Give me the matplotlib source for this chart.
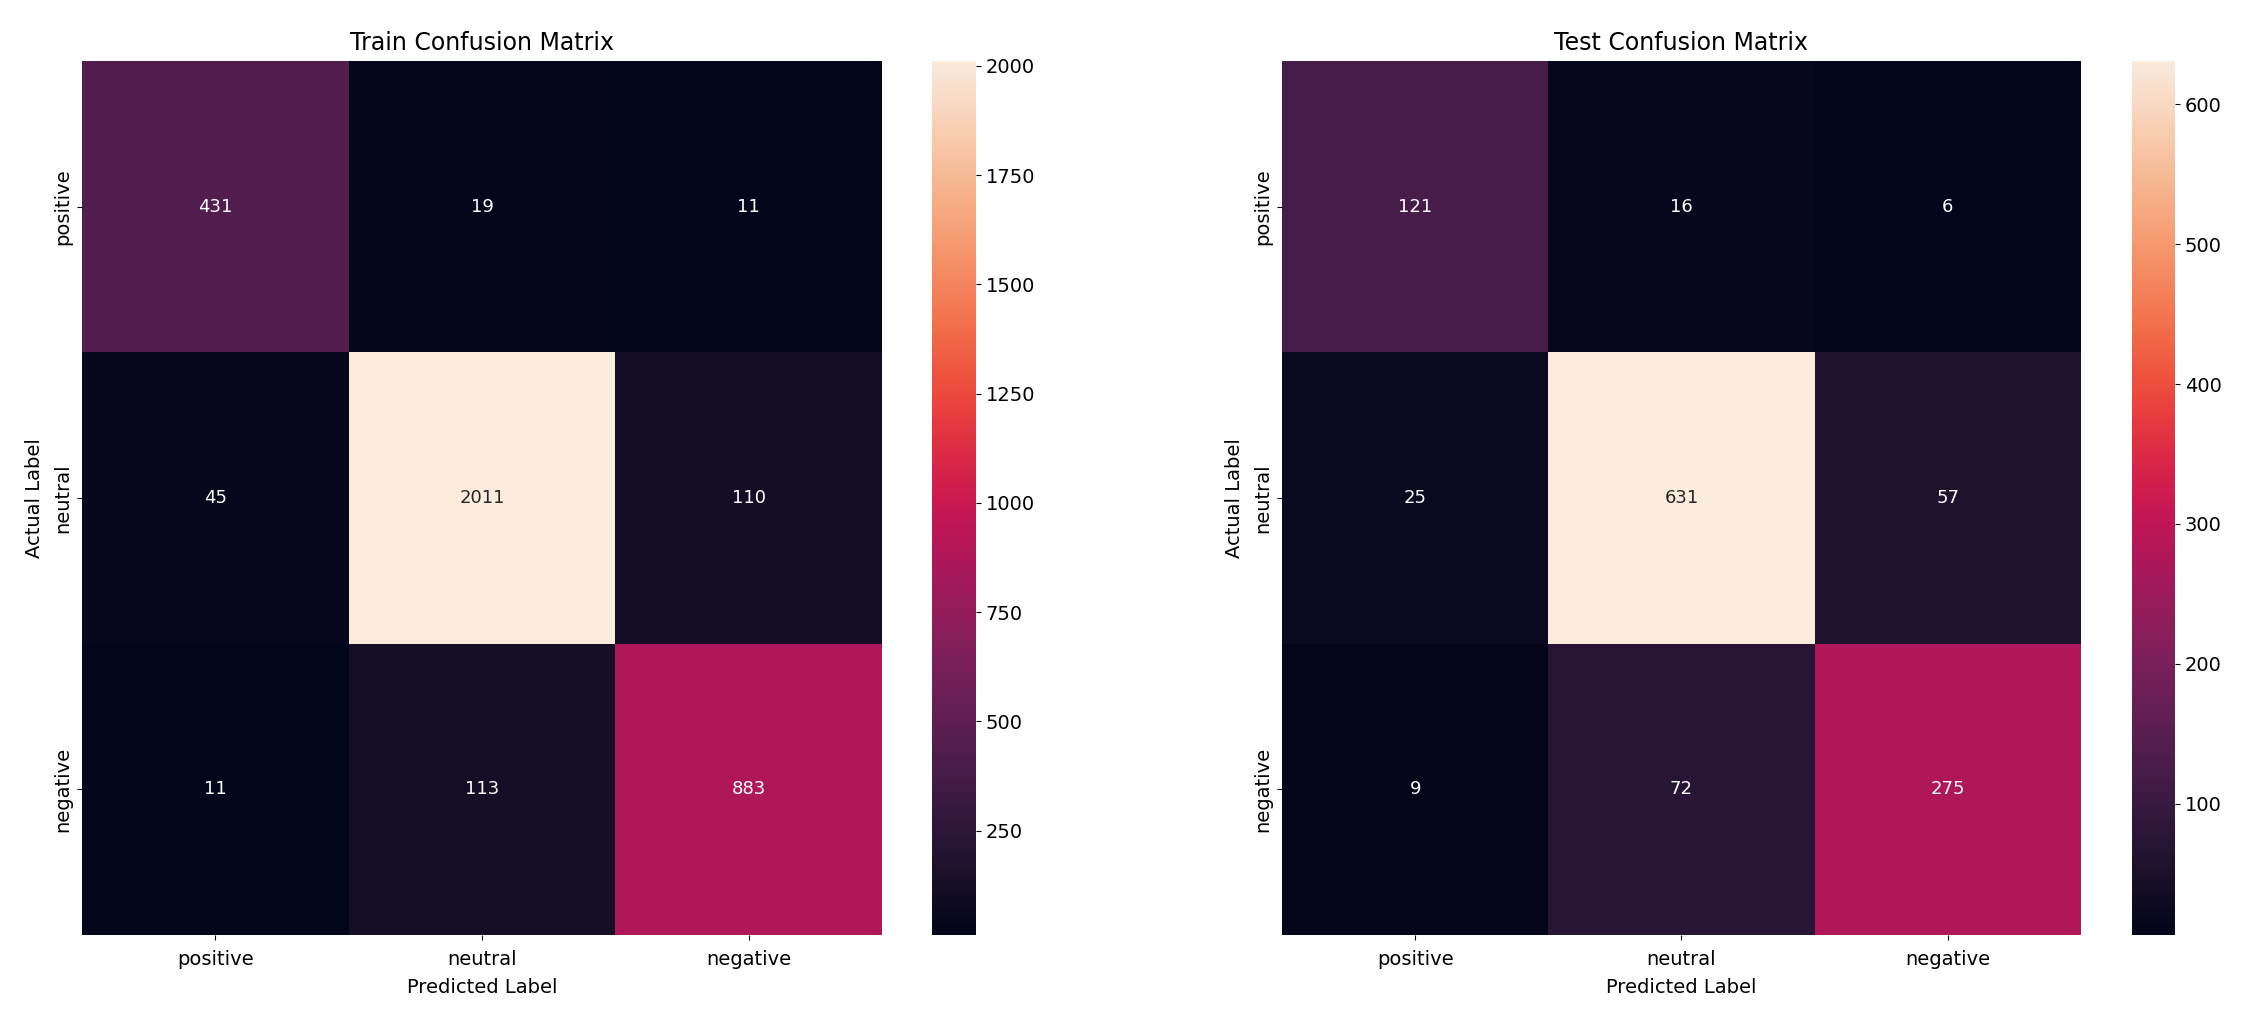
import numpy as np
import matplotlib
matplotlib.use("Agg")
import matplotlib.pyplot as plt
import seaborn as sns

labels = ["positive", "neutral", "negative"]

train_cm = np.array([[431, 19, 11],
                     [45, 2011, 110],
                     [11, 113, 883]])
test_cm = np.array([[121, 16, 6],
                    [25, 631, 57],
                    [9, 72, 275]])

W, H = 2252, 1018
fig = plt.figure(figsize=(W / 100, H / 100), dpi=100)

def box(x0, x1, y0, y1):
    # pixel box -> figure fraction
    return [x0 / W, 1 - y1 / H, (x1 - x0) / W, (y1 - y0) / H]

ax1 = fig.add_axes(box(82, 882, 61, 935))
cax1 = fig.add_axes(box(932, 976, 61, 935))
ax2 = fig.add_axes(box(1282, 2081, 61, 935))
cax2 = fig.add_axes(box(2132, 2175, 61, 935))

fs = 14
for ax, cax, cm, title in [(ax1, cax1, train_cm, "Train Confusion Matrix"),
                           (ax2, cax2, test_cm, "Test Confusion Matrix")]:
    sns.heatmap(cm, annot=True, fmt="d", ax=ax, cbar_ax=cax,
                xticklabels=labels, yticklabels=labels,
                annot_kws={"fontsize": 13})
    ax.set_title(title, fontsize=17, pad=8)
    ax.set_xlabel("Predicted Label", fontsize=fs, labelpad=7)
    ax.set_ylabel("Actual Label", fontsize=fs, labelpad=7)
    ax.tick_params(labelsize=fs)
    ax.tick_params(axis="x", pad=7)
    cax.tick_params(labelsize=fs)

cax1.set_yticks([250, 500, 750, 1000, 1250, 1500, 1750, 2000])

fig.savefig("out.png", dpi=100)
